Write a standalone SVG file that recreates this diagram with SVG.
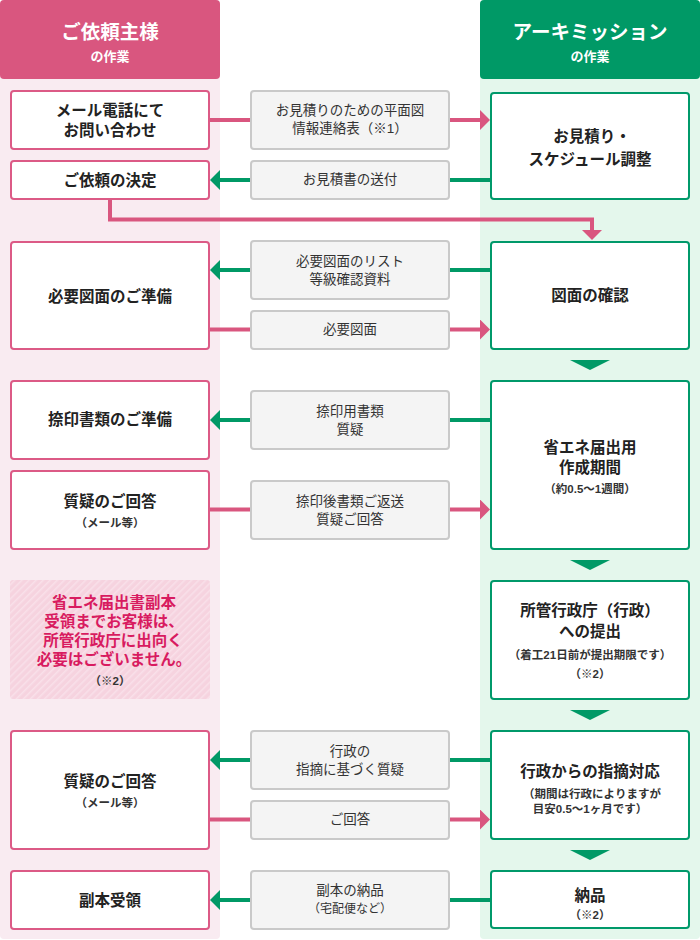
<svg xmlns="http://www.w3.org/2000/svg" width="700" height="940" viewBox="0 0 700 940">
<style>
text{font-family:"Liberation Sans","Noto Sans CJK JP",sans-serif;text-anchor:middle;dominant-baseline:central}
.hd{fill:#fff;font-weight:700;font-size:19.5px}
.hs{fill:#fff;font-weight:700;font-size:13px}
.lb{fill:#fff;stroke:#dc5a86;stroke-width:2}
.rb{fill:#fff;stroke:#00996a;stroke-width:2}
.mb{fill:#f4f4f4;stroke:#c9c9c9;stroke-width:2}
.t{fill:#222;font-weight:700;font-size:15.5px}
.s{fill:#333;font-weight:700;font-size:11.5px}
.m{fill:#333;font-size:13.5px}
.note{fill:#d81b60;font-weight:700;font-size:15.5px}
.pk{stroke:#d9567f;stroke-width:4;fill:none}
.gr{stroke:#009966;stroke-width:4;fill:none}
</style>
<defs>
<marker id="ap" markerUnits="userSpaceOnUse" markerWidth="10" markerHeight="20" refX="5" refY="10" orient="auto"><path d="M0,0 L10,10 L0,20 z" fill="#d9567f"/></marker>
<marker id="ag" markerUnits="userSpaceOnUse" markerWidth="10" markerHeight="20" refX="5" refY="10" orient="auto"><path d="M0,0 L10,10 L0,20 z" fill="#009966"/></marker>
<pattern id="stripes" patternUnits="userSpaceOnUse" width="5" height="5" patternTransform="rotate(45)"><rect width="5" height="5" fill="#f6d3df"/><rect width="1.6" height="5" fill="#f9e0e9"/></pattern>
</defs>

<g id="columns">
<rect x="0" y="0" width="220" height="939" rx="4" fill="#f9ebf1"/>
<rect x="480" y="0" width="220" height="939" rx="4" fill="#e4f7ec"/>
</g>
<g id="header-client">
<rect x="0" y="0" width="220" height="79" rx="4" fill="#d9567f"/>
<text class="hd" x="110" y="32">ご依頼主様</text>
<text class="hs" x="110" y="56">の作業</text>
</g>
<g id="header-archimission">
<rect x="480" y="0" width="220" height="79" rx="4" fill="#009966"/>
<text class="hd" x="590" y="32">アーキミッション</text>
<text class="hs" x="590" y="56">の作業</text>
</g>

<g id="connectors">
<path class="pk" d="M210,120 H485" marker-end="url(#ap)"/>
<path class="gr" d="M490,180 H215" marker-end="url(#ag)"/>
<path class="pk" d="M110,200 V219.5 H592 V235" marker-end="url(#ap)"/>
<path class="gr" d="M490,270 H215" marker-end="url(#ag)"/>
<path class="pk" d="M210,329.5 H485" marker-end="url(#ap)"/>
<path class="gr" d="M490,420 H215" marker-end="url(#ag)"/>
<path class="pk" d="M210,509.5 H485" marker-end="url(#ap)"/>
<path class="gr" d="M490,760 H215" marker-end="url(#ag)"/>
<path class="pk" d="M210,819.5 H485" marker-end="url(#ap)"/>
<path class="gr" d="M490,900 H215" marker-end="url(#ag)"/>
<polygon points="570,360 610,360 590,370" fill="#009966"/>
<polygon points="570,560 610,560 590,570" fill="#009966"/>
<polygon points="570,710 610,710 590,720" fill="#009966"/>
<polygon points="570,850 610,850 590,860" fill="#009966"/>
</g>

<g id="l1"><rect class="lb" x="11" y="91" width="198" height="58" rx="3"/><text class="t" x="110" y="110">メール電話にて</text><text class="t" x="110" y="130">お問い合わせ</text></g>
<g id="l2"><rect class="lb" x="11" y="161" width="198" height="38" rx="3"/><text class="t" x="110" y="180">ご依頼の決定</text></g>
<g id="l3"><rect class="lb" x="11" y="242" width="198" height="107" rx="3"/><text class="t" x="110" y="296">必要図面のご準備</text></g>
<g id="l4"><rect class="lb" x="11" y="381" width="198" height="78" rx="3"/><text class="t" x="110" y="419.5">捺印書類のご準備</text></g>
<g id="l5"><rect class="lb" x="11" y="471" width="198" height="78" rx="3"/><text class="t" x="110" y="501">質疑のご回答</text><text class="s" x="110" y="523">（メール等）</text></g>
<g id="note"><rect x="10" y="580" width="200" height="119" rx="3" fill="url(#stripes)"/>
<text class="note" x="114" y="602">省エネ届出書副本</text>
<text class="note" x="114" y="621.5">受領までお客様は、</text>
<text class="note" x="113" y="640.5">所管行政庁に出向く</text>
<text class="note" x="114" y="659.5">必要はございません。</text>
<text class="s" x="110" y="681">（※2）</text></g>
<g id="l6"><rect class="lb" x="11" y="731" width="198" height="118" rx="3"/><text class="t" x="110" y="781">質疑のご回答</text><text class="s" x="110" y="803">（メール等）</text></g>
<g id="l7"><rect class="lb" x="11" y="871" width="198" height="58" rx="3"/><text class="t" x="110" y="900">副本受領</text></g>

<g id="m1"><rect class="mb" x="251" y="91" width="198" height="58" rx="3"/><text class="m" x="350" y="110">お見積りのための平面図</text><text class="m" x="350" y="128.5">情報連絡表（※1）</text></g>
<g id="m2"><rect class="mb" x="251" y="161" width="198" height="38" rx="3"/><text class="m" x="350" y="179.5">お見積書の送付</text></g>
<g id="m3"><rect class="mb" x="251" y="241" width="198" height="58" rx="3"/><text class="m" x="350" y="261.5">必要図面のリスト</text><text class="m" x="350" y="279.5">等級確認資料</text></g>
<g id="m4"><rect class="mb" x="251" y="311" width="198" height="38" rx="3"/><text class="m" x="350" y="329.5">必要図面</text></g>
<g id="m5"><rect class="mb" x="251" y="391" width="198" height="58" rx="3"/><text class="m" x="350" y="411.5">捺印用書類</text><text class="m" x="350" y="429.5">質疑</text></g>
<g id="m6"><rect class="mb" x="251" y="481" width="198" height="58" rx="3"/><text class="m" x="350" y="501.5">捺印後書類ご返送</text><text class="m" x="350" y="519">質疑ご回答</text></g>
<g id="m7"><rect class="mb" x="251" y="731" width="198" height="58" rx="3"/><text class="m" x="350" y="751.5">行政の</text><text class="m" x="350" y="769.5">指摘に基づく質疑</text></g>
<g id="m8"><rect class="mb" x="251" y="801" width="198" height="38" rx="3"/><text class="m" x="350" y="819.5">ご回答</text></g>
<g id="m9"><rect class="mb" x="251" y="871" width="198" height="58" rx="3"/><text class="m" x="350" y="890.5">副本の納品</text><text class="s" style="font-weight:400;font-size:12px" x="350" y="908.5">（宅配便など）</text></g>

<g id="r1"><rect class="rb" x="491" y="93" width="198" height="106" rx="3"/><text class="t" x="592" y="136">お見積り・</text><text class="t" x="590" y="159">スケジュール調整</text></g>
<g id="r2"><rect class="rb" x="491" y="242" width="198" height="107" rx="3"/><text class="t" x="590" y="295">図面の確認</text></g>
<g id="r3"><rect class="rb" x="491" y="381" width="198" height="168" rx="3"/><text class="t" x="590" y="447.5">省エネ届出用</text><text class="t" x="590" y="467">作成期間</text><text class="s" x="590" y="488.5">（約0.5〜1週間）</text></g>
<g id="r4"><rect class="rb" x="491" y="581" width="198" height="118" rx="3"/><text class="t" x="590" y="610">所管行政庁（行政）</text><text class="t" x="590" y="631">への提出</text><text class="s" x="590" y="655">（着工21日前が提出期限です）</text><text class="s" x="590" y="673.5">（※2）</text></g>
<g id="r5"><rect class="rb" x="491" y="731" width="198" height="108" rx="3"/><text class="t" x="590" y="771.5">行政からの指摘対応</text><text class="s" x="592" y="793.5">（期間は行政によりますが</text><text class="s" x="590" y="808.5">目安0.5〜1ヶ月です）</text></g>
<g id="r6"><rect class="rb" x="491" y="871" width="198" height="57" rx="3"/><text class="t" x="590" y="895">納品</text><text class="s" x="590" y="915">（※2）</text></g>
</svg>
